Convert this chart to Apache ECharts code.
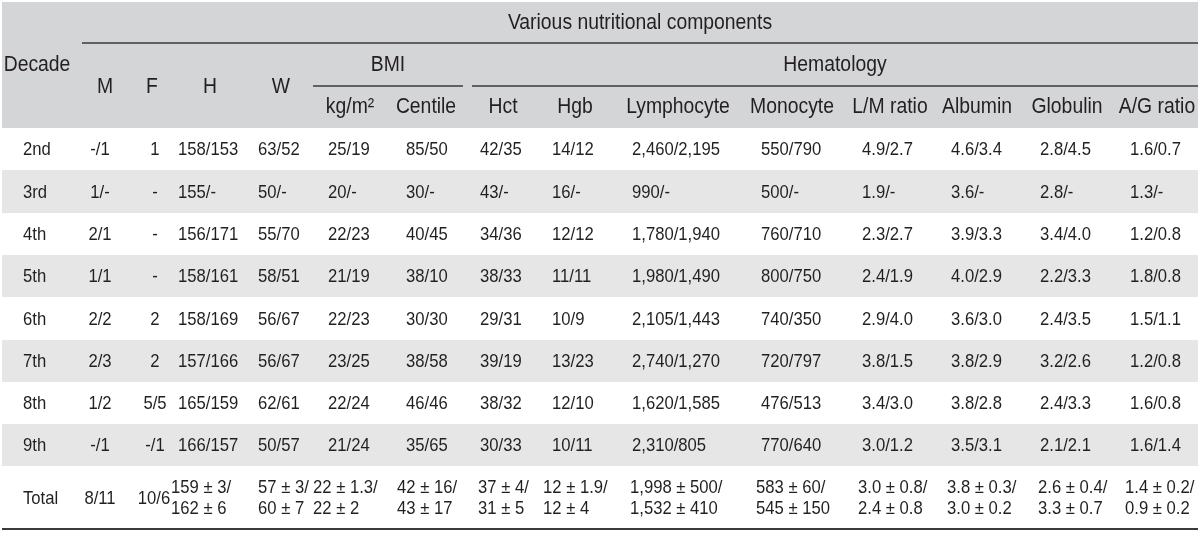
<!DOCTYPE html>
<html><head><meta charset="utf-8">
<script src="https://cdn.jsdelivr.net/npm/echarts@6/dist/echarts.min.js"></script>
<style>html,body{margin:0;padding:0;background:#fff}#c{width:1200px;height:533px}</style>
</head><body><div id="c"></div>
<script>
// ---------- DATA ----------
const title = 'Various nutritional components';
const groupHeaders = ['BMI', 'Hematology'];
const rowHeaderTitle = 'Decade';
const colHeaders = ['M', 'F', 'H', 'W', 'kg/m²', 'Centile', 'Hct', 'Hgb', 'Lymphocyte', 'Monocyte', 'L/M ratio', 'Albumin', 'Globulin', 'A/G ratio'];
const decades = ['2nd', '3rd', '4th', '5th', '6th', '7th', '8th', '9th', 'Total'];
const colM = ['-/1', '1/-', '2/1', '1/1', '2/2', '2/3', '1/2', '-/1', '8/11'];
const colF = ['1', '-', '-', '-', '2', '2', '5/5', '-/1', '10/6'];
const colH = ['158/153', '155/-', '156/171', '158/161', '158/169', '157/166', '165/159', '166/157', '159 ± 3/\n162 ± 6'];
const colW = ['63/52', '50/-', '55/70', '58/51', '56/67', '56/67', '62/61', '50/57', '57 ± 3/\n60 ± 7'];
const colBmiKg = ['25/19', '20/-', '22/23', '21/19', '22/23', '23/25', '22/24', '21/24', '22 ± 1.3/\n22 ± 2'];
const colBmiCentile = ['85/50', '30/-', '40/45', '38/10', '30/30', '38/58', '46/46', '35/65', '42 ± 16/\n43 ± 17'];
const colHct = ['42/35', '43/-', '34/36', '38/33', '29/31', '39/19', '38/32', '30/33', '37 ± 4/\n31 ± 5'];
const colHgb = ['14/12', '16/-', '12/12', '11/11', '10/9', '13/23', '12/10', '10/11', '12 ± 1.9/\n12 ± 4'];
const colLym = ['2,460/2,195', '990/-', '1,780/1,940', '1,980/1,490', '2,105/1,443', '2,740/1,270', '1,620/1,585', '2,310/805', '1,998 ± 500/\n1,532 ± 410'];
const colMono = ['550/790', '500/-', '760/710', '800/750', '740/350', '720/797', '476/513', '770/640', '583 ± 60/\n545 ± 150'];
const colLM = ['4.9/2.7', '1.9/-', '2.3/2.7', '2.4/1.9', '2.9/4.0', '3.8/1.5', '3.4/3.0', '3.0/1.2', '3.0 ± 0.8/\n2.4 ± 0.8'];
const colAlb = ['4.6/3.4', '3.6/-', '3.9/3.3', '4.0/2.9', '3.6/3.0', '3.8/2.9', '3.8/2.8', '3.5/3.1', '3.8 ± 0.3/\n3.0 ± 0.2'];
const colGlob = ['2.8/4.5', '2.8/-', '3.4/4.0', '2.2/3.3', '2.4/3.5', '3.2/2.6', '2.4/3.3', '2.1/2.1', '2.6 ± 0.4/\n3.3 ± 0.7'];
const colAG = ['1.6/0.7', '1.3/-', '1.2/0.8', '1.8/0.8', '1.5/1.1', '1.2/0.8', '1.6/0.8', '1.6/1.4', '1.4 ± 0.2/\n0.9 ± 0.2'];

// ---------- LAYOUT / STYLE ----------
const columns = [decades, colM, colF, colH, colW, colBmiKg, colBmiCentile, colHct, colHgb, colLym, colMono, colLM, colAlb, colGlob, colAG];
const L = {
  W: 1200, H: 533,
  font: '"Liberation Sans", Arial, sans-serif',
  sx: 0.9,
  textColor: '#231f20',
  headFill: '#d4d5d7', bandFill: '#e6e6e7', ruleColor: '#3a3a3a',
  left: 2, right: 1198,
  headTop: 2, headBottom: 128,
  rowTops: [128, 170, 213, 255, 297, 340, 382, 424, 466], tableBottom: 529,
  headSize: 21.5, cellSize: 18.5, totalLineH: 21,
  titleY: 23, groupY: 65, colHeadY: 87.5, subHeadY: 107.5,
  titleX: 640, decadeX: 37,
  groupX: [388, 835],
  groupSpans: [[313, 463], [472, 1198]], titleSpan: [82, 1198], groupRuleY: 86, titleRuleY: 43,
  headX: [105, 152, 210, 281, 350, 426, 503, 575, 678, 792, 890, 977, 1067, 1157],
  headRowY: [87.5, 87.5, 87.5, 87.5, 107.5, 107.5, 107.5, 107.5, 107.5, 107.5, 107.5, 107.5, 107.5, 107.5],
  cellX:  [23, 100, 155, 178, 258, 328, 406, 480, 552, 632, 761, 862, 951, 1040, 1130],
  totalX: [23, 100, 154, 171, 258, 313, 397, 478, 543, 630, 756, 858, 947, 1038, 1125],
  cellAlign: ['left', 'center', 'center', 'left', 'left', 'left', 'left', 'left', 'left', 'left', 'left', 'left', 'left', 'left', 'left']
};

// build text items
const texts = [];
texts.push({ x: L.titleX, y: L.titleY, t: title, a: 'center', s: L.headSize });
texts.push({ x: L.decadeX, y: L.groupY, t: rowHeaderTitle, a: 'center', s: L.headSize });
groupHeaders.forEach((g, i) => texts.push({ x: L.groupX[i], y: L.groupY, t: g, a: 'center', s: L.headSize }));
colHeaders.forEach((h, i) => texts.push({ x: L.headX[i], y: L.headRowY[i], t: h, a: 'center', s: L.headSize }));
columns.forEach((col, ci) => {
  col.forEach((v, ri) => {
    const top = L.rowTops[ri];
    const bot = ri + 1 < L.rowTops.length ? L.rowTops[ri + 1] : L.tableBottom;
    const isTotal = ri === decades.length - 1;
    texts.push({ x: isTotal ? L.totalX[ci] : L.cellX[ci], y: (top + bot) / 2 + 1, t: v, a: L.cellAlign[ci], s: L.cellSize });
  });
});

// bands
const bands = [[L.left, L.headTop, L.right, L.headBottom, L.headFill]];
decades.forEach((d, ri) => {
  if (ri % 2 === 1) bands.push([L.left, L.rowTops[ri], L.right, ri + 1 < L.rowTops.length ? L.rowTops[ri + 1] : L.tableBottom, L.bandFill]);
});
// rules
const rules = [
  [L.titleSpan[0], L.titleRuleY, L.titleSpan[1], L.titleRuleY, 1.4],
  [L.groupSpans[0][0], L.groupRuleY, L.groupSpans[0][1], L.groupRuleY, 1.4],
  [L.groupSpans[1][0], L.groupRuleY, L.groupSpans[1][1], L.groupRuleY, 1.4],
  [L.left, L.tableBottom, L.right, L.tableBottom, 1.8]
];

const chart = echarts.init(document.getElementById('c'), null, { renderer: 'canvas' });
chart.setOption({
  animation: false,
  backgroundColor: '#ffffff',
  grid: { left: 0, right: 0, top: 0, bottom: 0 },
  xAxis: { type: 'value', min: 0, max: L.W, show: false },
  yAxis: { type: 'value', min: 0, max: L.H, inverse: true, show: false },
  series: [
    {
      type: 'custom', silent: true, clip: false,
      data: bands.map(b => [b[0], b[1], b[2], b[3]]),
      encode: { x: [0, 2], y: [1, 3] },
      renderItem: (p, api) => {
        const a = api.coord([api.value(0), api.value(1)]);
        const b = api.coord([api.value(2), api.value(3)]);
        return { type: 'rect', shape: { x: a[0], y: a[1], width: b[0] - a[0], height: b[1] - a[1] }, style: { fill: bands[p.dataIndex][4] } };
      }
    },
    {
      type: 'custom', silent: true, clip: false,
      data: rules.map(r => [r[0], r[1], r[2], r[3]]),
      encode: { x: [0, 2], y: [1, 3] },
      renderItem: (p, api) => {
        const a = api.coord([api.value(0), api.value(1)]);
        const b = api.coord([api.value(2), api.value(3)]);
        return { type: 'line', shape: { x1: a[0], y1: a[1], x2: b[0], y2: b[1] }, style: { stroke: L.ruleColor, lineWidth: rules[p.dataIndex][4] } };
      }
    },
    {
      type: 'custom', silent: true, clip: false,
      data: texts.map(t => [t.x, t.y]),
      encode: { x: 0, y: 1 },
      renderItem: (p, api) => {
        const t = texts[p.dataIndex];
        const c = api.coord([api.value(0), api.value(1)]);
        return {
          type: 'text', x: c[0], y: c[1], scaleX: L.sx, scaleY: 1,
          style: {
            text: t.t, fill: L.textColor, fontFamily: L.font, fontSize: t.s,
            align: t.a, verticalAlign: 'middle', lineHeight: L.totalLineH
          }
        };
      }
    }
  ]
});
</script></body></html>
